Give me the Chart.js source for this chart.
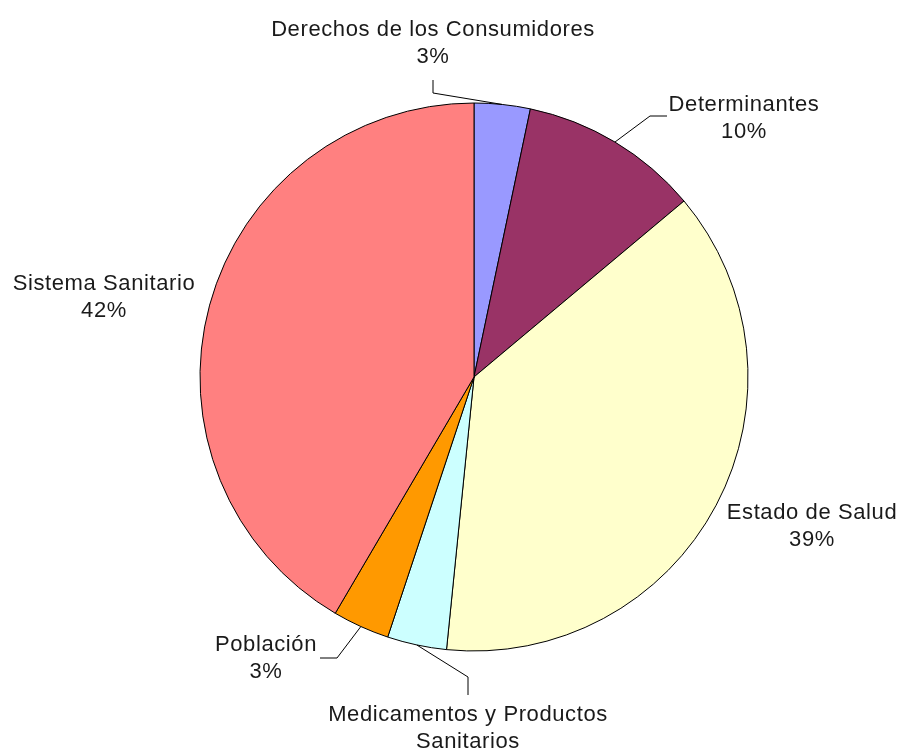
<!DOCTYPE html>
<html>
<head>
<meta charset="utf-8">
<script src="https://cdn.jsdelivr.net/npm/chart.js@4"></script>
<style>
  html, body { margin: 0; padding: 0; background: #ffffff; }
  #wrap { width: 902px; height: 755px; position: relative; }
</style>
</head>
<body>
<div id="wrap"><canvas id="c" width="902" height="755"></canvas></div>
<script>
// ---- data ----
const categories = [
  "Derechos de los Consumidores",
  "Determinantes",
  "Estado de Salud",
  "Medicamentos y Productos Sanitarios",
  "Población",
  "Sistema Sanitario"
];
// slice sizes as measured from the slice angles in the picture
const values = [3.3, 10.6, 37.7, 3.5, 3.35, 41.55];
// percentage labels as printed in the picture
const percentLabels = ["3%", "10%", "39%", "3%", "3%", "42%"];
const colors = ["#9999FF", "#993366", "#FFFFCC", "#CCFFFF", "#FF9900", "#FF8080"];
// label text lines (category name split into lines)
const labelLines = [
  ["Derechos de los Consumidores"],
  ["Determinantes"],
  ["Estado de Salud"],
  ["Medicamentos y Productos", "Sanitarios"],
  ["Población"],
  ["Sistema Sanitario"]
];

// ---- layout for labels (positions only) ----
const labelLayout = [
  { x: 433, y: 36,  leader: [[433, 93], [433, 80]] },
  { x: 744, y: 111, leader: [[650, 116], [667, 116]] },
  { x: 812, y: 519, leader: null },
  { x: 468, y: 721, leader: [[468, 677], [468, 695]] },
  { x: 266, y: 651, leader: [[337, 658], [320, 658]] },
  { x: 104, y: 290, leader: null }
];
const lineHeight = 27;

const labelPlugin = {
  id: 'pieLabels',
  afterDatasetsDraw(chart) {
    const ctx = chart.ctx;
    const meta = chart.getDatasetMeta(0);
    ctx.save();
    // leader lines
    ctx.strokeStyle = '#000000';
    ctx.lineWidth = 1;
    meta.data.forEach((arc, i) => {
      const lay = labelLayout[i];
      if (!lay.leader) return;
      const p = arc.getProps(['x', 'y', 'startAngle', 'endAngle', 'outerRadius'], true);
      const mid = (p.startAngle + p.endAngle) / 2;
      const sx = p.x + Math.cos(mid) * p.outerRadius;
      const sy = p.y + Math.sin(mid) * p.outerRadius;
      ctx.beginPath();
      ctx.moveTo(sx, sy);
      lay.leader.forEach(pt => ctx.lineTo(pt[0], pt[1]));
      ctx.stroke();
    });
    // texts
    ctx.fillStyle = '#1a1a1a';
    ctx.font = '22px "Liberation Sans", Arial, sans-serif';
    try { ctx.letterSpacing = '0.6px'; } catch (e) {}
    ctx.textAlign = 'center';
    ctx.textBaseline = 'alphabetic';
    meta.data.forEach((arc, i) => {
      const lay = labelLayout[i];
      const lines = labelLines[i].concat([percentLabels[i]]);
      lines.forEach((t, k) => {
        ctx.fillText(t, lay.x, lay.y + k * lineHeight);
      });
    });
    ctx.restore();
  }
};

new Chart(document.getElementById('c'), {
  type: 'pie',
  data: {
    labels: categories,
    datasets: [{
      data: values,
      backgroundColor: colors,
      borderColor: '#000000',
      borderWidth: 1
    }]
  },
  options: {
    responsive: false,
    animation: false,
    layout: { padding: { left: 199.5, right: 153.5, top: 102.5, bottom: 103.5 } },
    plugins: {
      legend: { display: false },
      tooltip: { enabled: false }
    }
  },
  plugins: [labelPlugin]
});
</script>
</body>
</html>
